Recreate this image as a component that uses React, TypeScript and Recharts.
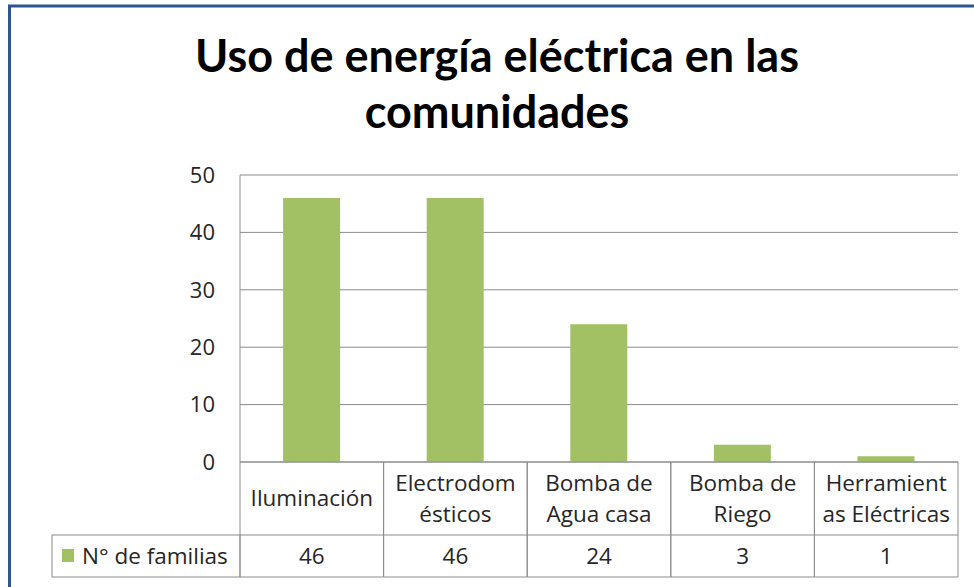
import { BarChart, Bar, XAxis, YAxis, CartesianGrid } from 'recharts';

const title = ['Uso de energía eléctrica en las', 'comunidades'];
const categories = ['Iluminación', 'Electrodom\nésticos', 'Bomba de\nAgua casa', 'Bomba de\nRiego', 'Herramient\nas Eléctricas'];
const familias = [46, 46, 24, 3, 1];
const yTicks = [0, 10, 20, 30, 40, 50];
const seriesName = 'N° de familias';

const chartData = categories.map((c, i) => ({ category: c, familias: familias[i] }));

const W = 974;
const H = 587;
const PLOT_LEFT = 240;
const PLOT_RIGHT = 958;
const PLOT_TOP = 175;
const PLOT_BOTTOM = 462;
const ROW1 = 73; // category label row height
const ROW2 = 42; // value row height
const LEGEND_W = 188;
const TITLE_FONT = 'Lato, "Open Sans", sans-serif';
const FONT = '"Open Sans", Lato, sans-serif';
const TABLE_SIZE = 22.5;
const GREEN = '#a2c164';
const LINE = '#8c8c8c';
const TEXT = '#262626';

function TableTick(props: any) {
  const { x, y, payload, index, width } = props;
  const bw = (width || PLOT_RIGHT - PLOT_LEFT) / categories.length;
  const left = x - bw / 2;
  const right = x + bw / 2;
  const lines = String(payload.value).split('\n');
  const rowMid = y + ROW1 / 2;
  const lh = 31;
  const firstY = rowMid - ((lines.length - 1) * lh) / 2;
  return (
    <g>
      <line x1={left} x2={right} y1={y + ROW1} y2={y + ROW1} stroke={LINE} />
      <line x1={left} x2={right} y1={y + ROW1 + ROW2} y2={y + ROW1 + ROW2} stroke={LINE} />
      <line x1={left} x2={left} y1={y} y2={y + ROW1 + ROW2} stroke={LINE} />
      <line x1={right} x2={right} y1={y} y2={y + ROW1 + ROW2} stroke={LINE} />
      <text textAnchor="middle" fontSize={TABLE_SIZE} fontFamily={FONT} fill={TEXT}>
        {lines.map((l, i) => (
          <tspan key={i} x={x} y={firstY + i * lh} dy="0.35em">
            {l}
          </tspan>
        ))}
      </text>
      <text x={x} y={y + ROW1 + ROW2 / 2} dy="0.35em" textAnchor="middle" fontSize={TABLE_SIZE} fontFamily={FONT} fill={TEXT}>
        {familias[index]}
      </text>
      {index === 0 && (
        <g>
          <rect x={left - LEGEND_W} y={y + ROW1} width={LEGEND_W} height={ROW2} fill="none" stroke={LINE} />
          <rect x={left - LEGEND_W + 10} y={y + ROW1 + 14} width={12} height={13} fill={GREEN} />
          <text x={left - LEGEND_W + 30} y={y + ROW1 + ROW2 / 2} dy="0.35em" fontSize={TABLE_SIZE} fontFamily={FONT} fill={TEXT}>
            {seriesName}
          </text>
        </g>
      )}
    </g>
  );
}

export default function App() {
  return (
    <div style={{ position: 'absolute', left: 0, top: 0, width: W, height: H, background: '#fff', overflow: 'hidden' }}>
      <svg width={W} height={H} style={{ position: 'absolute', left: 0, top: 0 }}>
        <rect x={9.5} y={6} width={W + 20} height={H + 20} fill="#fff" stroke="#2f5590" strokeWidth={3} />
        {title.map((t, i) => (
          <text key={i} x={497} y={72 + i * 56} textAnchor="middle" fontSize={45} fontWeight={700} fontFamily={TITLE_FONT} fill="#000">
            {t}
          </text>
        ))}
      </svg>
      <div style={{ position: 'absolute', left: 0, top: 0 }}>
        <BarChart
          width={W}
          height={H}
          data={chartData}
          barCategoryGap="30%"
          margin={{ top: PLOT_TOP, right: W - PLOT_RIGHT, left: PLOT_LEFT - 60, bottom: 0 }}
        >
          <CartesianGrid vertical={false} stroke={LINE} />
          <XAxis
            dataKey="category"
            height={H - PLOT_BOTTOM}
            interval={0}
            axisLine={{ stroke: LINE }}
            tickLine={false}
            tickSize={0}
            tickMargin={0}
            tick={<TableTick />}
          />
          <YAxis
            width={60}
            domain={[0, 50]}
            ticks={yTicks}
            axisLine={{ stroke: LINE }}
            tickLine={false}
            tickSize={0}
            tickMargin={25}
            tick={{ fontSize: 22, fontFamily: FONT, fill: TEXT }}
          />
          <Bar dataKey="familias" name={seriesName} fill={GREEN} isAnimationActive={false} maxBarSize={58} />
        </BarChart>
      </div>
    </div>
  );
}
